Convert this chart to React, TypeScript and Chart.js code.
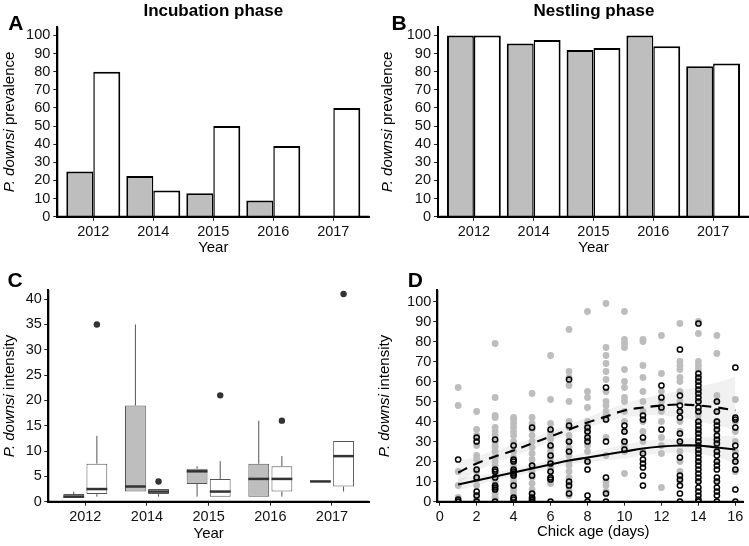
import React, { useEffect, useRef } from 'react';
import { Chart, registerables } from 'chart.js';
Chart.register(...registerables);

const FONT = '"Liberation Sans", Arial, Helvetica, sans-serif';
const GRAY = '#bebebe';

// ---------- Panel A / B : prevalence ----------
const years = ['2012', '2014', '2015', '2016', '2017'];
const incubGray: (number | null)[] = [25, 22.5, 13, 9, null];
const incubWhite = [80, 14.5, 50, 39, 60];
const nestGray = [100, 95.5, 92, 100, 83];
const nestWhite = [100, 97.5, 93, 94, 84.5];
const prevTicks = [0, 10, 20, 30, 40, 50, 60, 70, 80, 90, 100];

// ---------- Panel C : intensity box plots ----------
const grayMin = [0.8, 2, 1, 1, 4];
const grayQ1 = [0.8, 2, 3.5, 1, 4];
const grayMed = [1, 3, 6, 4.5, 4];
const grayQ3 = [1.5, 19, 6.5, 7.5, 4];
const grayMax = [2, 35, 7, 16, 4];
const grayOut: number[][] = [[], [], [], [], []];
const whiteMin = [1, 1, 1, 1, 2];
const whiteQ1 = [1.5, 1.5, 1, 2, 3];
const whiteMed = [2.5, 2, 2, 4.5, 9];
const whiteQ3 = [7.5, 2.5, 4.5, 7, 12];
const whiteMax = [13, 2.5, 8, 9, 12];
const whiteOut: number[][] = [[35], [4], [21], [16], [41]];
const intTicks = [0, 5, 10, 15, 20, 25, 30, 35, 40];

// ---------- Panel D : intensity vs chick age ----------
const days = [1, 2, 3, 4, 5, 6, 7, 8, 9, 10, 11, 12, 13, 14, 15, 16];
const grayByDay: number[][] = [
  [57, 48, 15, 8, 2, 1],
  [45, 36, 33, 28, 23, 21, 15, 12, 11, 8, 3, 1],
  [79, 52, 43, 42, 37, 35, 33, 31, 30, 28, 27, 25, 22, 20, 18, 16, 14, 12, 10, 8, 6, 4, 2, 1],
  [42, 41, 39, 37, 35, 33, 30, 28, 25, 22, 20, 18, 16, 14, 12, 10, 8, 6, 4, 2, 1],
  [54, 42, 39, 36, 33, 30, 27, 24, 21, 18, 15, 12, 9, 6, 4, 2, 1],
  [73, 51, 39, 35, 33, 31, 27, 25, 22, 20, 17, 15, 12, 10, 9],
  [86, 65, 62, 58, 50, 40, 37, 33, 30, 27, 25, 23, 20, 18, 15, 12, 9, 6, 4, 3],
  [95, 55, 52, 47, 40, 38, 35, 33, 30, 28, 25, 20],
  [99, 77, 73, 69, 65, 61, 55, 50, 48, 45, 43, 42, 32, 23, 10, 8, 5],
  [95, 81, 79, 77, 66, 60, 57, 52, 50, 45, 40, 35, 30, 28, 25, 14],
  [81, 80, 68, 62, 55, 50, 45, 40, 35, 30, 25],
  [83, 64, 55, 50, 47, 45, 40, 32, 28, 24, 7],
  [89, 70, 68, 66, 62, 60, 55, 50, 45, 40, 35, 30, 25, 20, 15, 10],
  [90, 84, 70, 68, 66, 62, 60, 55, 50, 45, 43, 40, 35, 30, 25, 20, 10],
  [83, 74, 53, 50, 45, 40, 35, 30, 25, 20, 10],
  [51, 40, 35, 30, 25, 20, 15],
];
const blackByDay: number[][] = [
  [21, 1, 0],
  [32, 30, 16, 12, 5, 3, 0],
  [31, 16, 15, 12, 8, 7, 6, 0],
  [28, 21, 20, 16, 15, 14, 13, 8, 2, 1],
  [37, 18, 13, 4, 2, 1, 0],
  [36, 28, 23, 19, 15, 12, 11, 0],
  [61, 38, 30, 25, 10, 8, 4],
  [37, 35, 32, 30, 20, 16, 3, 0],
  [57, 41, 30, 12, 4, 0],
  [38, 35, 30, 26],
  [43, 41, 32, 24, 21, 19, 17, 13, 8],
  [58, 52, 47, 36],
  [76, 53, 48, 45, 42, 34, 30, 22, 13, 11, 8, 4, 0],
  [89, 64, 62, 60, 58, 56, 54, 52, 50, 47, 45, 40, 38, 36, 34, 32, 30, 28, 26, 24, 22, 20, 18, 16, 14, 12, 10, 7, 5, 3, 1, 0],
  [50, 45, 40, 38, 36, 33, 31, 29, 25, 23, 20, 18, 16, 12, 10, 7, 5, 3, 0],
  [67, 42, 41, 37, 28, 23, 20, 16, 6, 0],
];
const dashFit = [14.5, 19, 22.5, 25.5, 29, 32.5, 36, 39.5, 42.5, 45.5, 47, 48, 48.5, 48, 47, 45.5];
const dashUpper = [20, 22.5, 25.5, 28.5, 31.5, 35, 38.5, 42, 45.5, 49, 51.5, 53.5, 55.5, 57.5, 59.5, 62.5];
const dashLower = [9, 15, 19.5, 22.5, 26, 30, 33.5, 37, 39.5, 42, 43, 43, 42, 40, 38, 36];
const solidFit = [8.5, 10.5, 12.5, 14.5, 16.5, 18.5, 20.5, 22, 23.5, 25, 26.5, 27.5, 28, 28, 27, 26];
const solidUpper = [11.5, 13, 14.5, 16.5, 18.5, 20.5, 22.5, 24.5, 26.5, 28.5, 30, 31, 31.5, 32, 32.5, 33];
const solidLower = [5.5, 8, 10.5, 12.5, 14.5, 16.5, 18.5, 19.5, 20.5, 21.5, 23, 24, 24.5, 24, 22, 19];
const ageTicks = [0, 2, 4, 6, 8, 10, 12, 14, 16];
const intDTicks = [0, 10, 20, 30, 40, 50, 60, 70, 80, 90, 100];

// ---------- helpers ----------
type Seg = { t: string; italic?: boolean; bold?: boolean };
type Lbl = { segs: Seg[]; x: number; y: number; size: number; rot?: number };

function textPlugin(id: string, items: Lbl[]) {
  return {
    id,
    afterDraw(chart: any) {
      const ctx = chart.ctx as CanvasRenderingContext2D;
      for (const l of items) {
        ctx.save();
        ctx.translate(l.x, l.y);
        if (l.rot) ctx.rotate(l.rot);
        ctx.textBaseline = 'middle';
        ctx.textAlign = 'left';
        ctx.fillStyle = '#000';
        const fonts = l.segs.map(
          (s) => `${s.italic ? 'italic ' : ''}${s.bold ? 'bold ' : ''}${l.size}px ${FONT}`
        );
        let total = 0;
        const widths = l.segs.map((s, i) => {
          ctx.font = fonts[i];
          const w = ctx.measureText(s.t).width;
          total += w;
          return w;
        });
        let cx = -total / 2;
        l.segs.forEach((s, i) => {
          ctx.font = fonts[i];
          ctx.fillText(s.t, cx, 0);
          cx += widths[i];
        });
        ctx.restore();
      }
    },
  };
}

function linScale(
  min: number,
  max: number,
  ticks: number[],
  fit: number,
  isX: boolean,
  labels?: string[],
  pad = 3
) {
  return {
    type: 'linear',
    min,
    max,
    offset: false,
    beginAtZero: false,
    afterBuildTicks: (s: any) => {
      s.ticks = ticks.map((v) => ({ value: v }));
    },
    afterFit: (s: any) => {
      if (isX) s.height = fit;
      else s.width = fit;
    },
    grid: {
      display: true,
      offset: false,
      drawOnChartArea: false,
      drawTicks: true,
      tickLength: 4,
      color: '#222',
      lineWidth: 1,
    },
    border: { display: true, color: '#000', width: 2 },
    ticks: {
      font: { family: FONT, size: 14.5 },
      color: '#111',
      padding: pad,
      autoSkip: false,
      maxRotation: 0,
      callback: (v: any) => (labels ? labels[Math.round(v) - 1] : String(v)),
    },
  };
}

const basePlugins = {
  legend: { display: false },
  tooltip: { enabled: false },
  title: { display: false },
};

// draws the axis lines explicitly so they meet at the corner
function axisLinePlugin(id: string) {
  return {
    id,
    afterDraw(chart: any) {
      const ctx = chart.ctx as CanvasRenderingContext2D;
      const a = chart.chartArea;
      ctx.save();
      ctx.strokeStyle = '#000';
      ctx.lineWidth = 2;
      ctx.beginPath();
      ctx.moveTo(a.left, a.top);
      ctx.lineTo(a.left, a.bottom);
      ctx.lineTo(a.right, a.bottom);
      ctx.stroke();
      ctx.restore();
    },
  };
}

function prevalenceConfig(
  grayVals: (number | null)[],
  whiteVals: number[],
  padding: any,
  yWidth: number,
  texts: Lbl[],
  id: string
): any {
  return {
    type: 'bar',
    data: {
      datasets: [
        {
          data: grayVals.map((v, i) => ({ x: i + 1, y: v })),
          backgroundColor: GRAY,
          borderColor: '#000',
          borderWidth: { left: 2, top: 2, right: 1.5, bottom: 0 },
          borderSkipped: false,
          categoryPercentage: 0.9,
          barPercentage: 1,
        },
        {
          data: whiteVals.map((v, i) => ({ x: i + 1, y: v })),
          backgroundColor: '#fff',
          borderColor: '#000',
          borderWidth: { left: 1.5, top: 2, right: 2, bottom: 0 },
          borderSkipped: false,
          categoryPercentage: 0.9,
          barPercentage: 1,
        },
      ],
    },
    options: {
      responsive: false,
      animation: false,
      layout: { padding },
      plugins: basePlugins,
      scales: {
        x: linScale(0.4, 5.6, [1, 2, 3, 4, 5], 56.3, true, years, 3),
        y: linScale(0, 104.8, prevTicks, yWidth, false, undefined, 3),
      },
    },
    plugins: [textPlugin(id, texts), axisLinePlugin(id + 'ax')],
  };
}

function boxPlugin() {
  const stats = [
    { min: grayMin, med: grayMed, q1: grayQ1, q3: grayQ3, max: grayMax, out: grayOut },
    { min: whiteMin, med: whiteMed, q1: whiteQ1, q3: whiteQ3, max: whiteMax, out: whiteOut },
  ];
  return {
    id: 'boxes',
    afterDatasetsDraw(chart: any) {
      const ctx = chart.ctx as CanvasRenderingContext2D;
      const y = chart.scales.y;
      stats.forEach((st, di) => {
        const meta = chart.getDatasetMeta(di);
        meta.data.forEach((el: any, j: number) => {
          const x = el.x;
          const w = el.width;
          ctx.save();
          ctx.strokeStyle = '#555';
          ctx.lineWidth = 1;
          ctx.beginPath();
          ctx.moveTo(x, y.getPixelForValue(st.q3[j]));
          ctx.lineTo(x, y.getPixelForValue(st.max[j]));
          ctx.moveTo(x, y.getPixelForValue(st.min[j]));
          ctx.lineTo(x, y.getPixelForValue(st.q1[j]));
          ctx.stroke();
          const ym = y.getPixelForValue(st.med[j]);
          ctx.strokeStyle = '#333';
          ctx.lineWidth = 2.5;
          ctx.beginPath();
          ctx.moveTo(x - w / 2, ym);
          ctx.lineTo(x + w / 2, ym);
          ctx.stroke();
          ctx.fillStyle = '#333';
          st.out[j].forEach((o) => {
            ctx.beginPath();
            ctx.arc(x, y.getPixelForValue(o), 3.2, 0, Math.PI * 2);
            ctx.fill();
          });
          ctx.restore();
        });
      });
    },
  };
}

const titleP = (x: number, y: number, rest: string): Lbl => ({
  segs: [{ t: 'P. downsi', italic: true }, { t: rest }],
  x,
  y,
  size: 15,
  rot: -Math.PI / 2,
});

function configA() {
  return prevalenceConfig(
    incubGray,
    incubWhite,
    { left: 0, top: 26.7, right: 379.7, bottom: 273 },
    57.3,
    [
      { segs: [{ t: 'A', bold: true }], x: 15.8, y: 24.5, size: 21 },
      { segs: [{ t: 'Incubation phase', bold: true }], x: 213.3, y: 11, size: 17 },
      titleP(9.5, 122, ' prevalence'),
      { segs: [{ t: 'Year' }], x: 213.3, y: 248, size: 15 },
    ],
    'textsA'
  );
}

function configB() {
  return prevalenceConfig(
    nestGray,
    nestWhite,
    { left: 380, top: 26.7, right: 0, bottom: 273 },
    58,
    [
      { segs: [{ t: 'B', bold: true }], x: 399, y: 24.5, size: 21 },
      { segs: [{ t: 'Nestling phase', bold: true }], x: 594, y: 11, size: 17 },
      titleP(387.5, 122, ' prevalence'),
      { segs: [{ t: 'Year' }], x: 593.5, y: 248, size: 15 },
    ],
    'textsB'
  );
}

function configC(): any {
  return {
    type: 'bar',
    data: {
      datasets: [
        {
          data: grayQ1.map((q, i) => ({ x: i + 1, y: [q, grayQ3[i]] })),
          backgroundColor: GRAY,
          borderColor: '#555',
          borderWidth: 1,
          borderSkipped: false,
          categoryPercentage: 0.75,
          barPercentage: 0.9,
        },
        {
          data: whiteQ1.map((q, i) => ({ x: i + 1, y: [q, whiteQ3[i]] })),
          backgroundColor: '#fff',
          borderColor: '#555',
          borderWidth: 1,
          borderSkipped: false,
          categoryPercentage: 0.75,
          barPercentage: 0.9,
        },
      ],
    },
    options: {
      responsive: false,
      animation: false,
      layout: { padding: { left: 0, top: 290, right: 380, bottom: 0 } },
      plugins: basePlugins,
      scales: {
        x: linScale(0.4, 5.6, [1, 2, 3, 4, 5], 44.3, true, years, 3),
        y: linScale(0, 41.8, intTicks, 48.3, false, undefined, 2.5),
      },
    },
    plugins: [
      boxPlugin(),
      axisLinePlugin('axC'),
      textPlugin('textsC', [
        { segs: [{ t: 'C', bold: true }], x: 15, y: 281, size: 21 },
        titleP(10, 396, ' intensity'),
        { segs: [{ t: 'Year' }], x: 208.7, y: 534, size: 15 },
      ]),
    ],
  };
}

function configD(): any {
  const pts = (arr: number[][]) =>
    arr.flatMap((vals, i) => vals.map((v) => ({ x: days[i], y: v })));
  const line = (vals: number[]) => vals.map((v, i) => ({ x: days[i], y: v }));
  const band = 'rgba(0,0,0,0.055)';
  return {
    type: 'scatter',
    data: {
      datasets: [
        {
          type: 'line',
          data: line(dashUpper),
          borderWidth: 0,
          pointRadius: 0,
          tension: 0.4,
          fill: '+1',
          backgroundColor: band,
          order: 9,
        },
        {
          type: 'line',
          data: line(dashLower),
          borderWidth: 0,
          pointRadius: 0,
          tension: 0.4,
          fill: false,
          order: 8,
        },
        {
          type: 'line',
          data: line(solidUpper),
          borderWidth: 0,
          pointRadius: 0,
          tension: 0.4,
          fill: '+1',
          backgroundColor: band,
          order: 7,
        },
        {
          type: 'line',
          data: line(solidLower),
          borderWidth: 0,
          pointRadius: 0,
          tension: 0.4,
          fill: false,
          order: 6,
        },
        {
          data: pts(grayByDay),
          pointRadius: 3.4,
          pointBorderWidth: 0,
          backgroundColor: '#bdbdbd',
          borderColor: '#bdbdbd',
          order: 5,
        },
        {
          data: pts(blackByDay),
          pointRadius: 2.6,
          pointBorderWidth: 1.5,
          backgroundColor: 'rgba(0,0,0,0)',
          borderColor: '#000',
          order: 4,
        },
        {
          type: 'line',
          data: line(dashFit),
          borderColor: '#000',
          borderWidth: 2.2,
          borderDash: [10, 7],
          pointRadius: 0,
          tension: 0.4,
          fill: false,
          order: 2,
        },
        {
          type: 'line',
          data: line(solidFit),
          borderColor: '#000',
          borderWidth: 2.2,
          pointRadius: 0,
          tension: 0.4,
          fill: false,
          order: 1,
        },
      ],
    },
    options: {
      responsive: false,
      animation: false,
      layout: { padding: { left: 380, top: 289.7, right: 0, bottom: 0 } },
      plugins: basePlugins,
      scales: {
        x: linScale(-0.128, 16.44, ageTicks, 44.3, true, undefined, 3),
        y: linScale(-0.1, 105.9, intDTicks, 57.3, false, undefined, 2),
      },
    },
    plugins: [
      axisLinePlugin('axD'),
      textPlugin('textsD', [
        { segs: [{ t: 'D', bold: true }], x: 415.3, y: 281, size: 21 },
        titleP(384.5, 396, ' intensity'),
        { segs: [{ t: 'Chick age (days)' }], x: 593.2, y: 532, size: 15 },
      ]),
    ],
  };
}

export default function App() {
  const rA = useRef<HTMLCanvasElement>(null);
  const rB = useRef<HTMLCanvasElement>(null);
  const rC = useRef<HTMLCanvasElement>(null);
  const rD = useRef<HTMLCanvasElement>(null);

  useEffect(() => {
    const charts = [
      new Chart(rA.current as HTMLCanvasElement, configA()),
      new Chart(rB.current as HTMLCanvasElement, configB()),
      new Chart(rC.current as HTMLCanvasElement, configC()),
      new Chart(rD.current as HTMLCanvasElement, configD()),
    ];
    return () => charts.forEach((c) => c.destroy());
  }, []);

  const cs: React.CSSProperties = { position: 'absolute', left: 0, top: 0 };
  return (
    <div
      style={{
        position: 'absolute',
        left: 0,
        top: 0,
        width: 749,
        height: 546,
        background: '#fff',
        overflow: 'hidden',
      }}
    >
      <canvas ref={rA} width={749} height={546} style={cs} />
      <canvas ref={rB} width={749} height={546} style={cs} />
      <canvas ref={rC} width={749} height={546} style={cs} />
      <canvas ref={rD} width={749} height={546} style={cs} />
    </div>
  );
}
